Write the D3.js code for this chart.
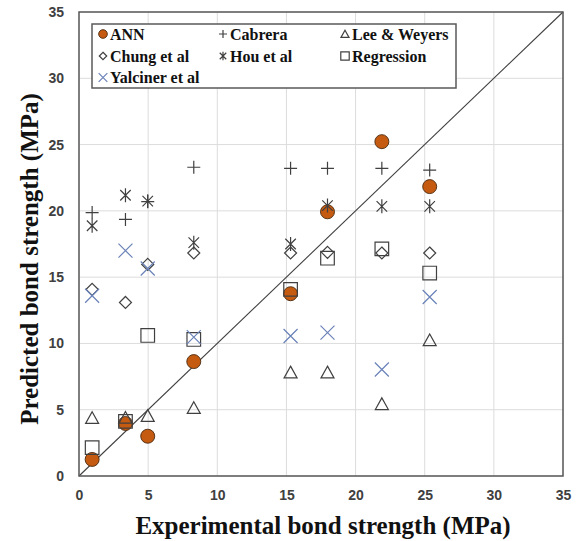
<!DOCTYPE html>
<html>
<head>
    <meta charset="utf-8" />
    <script src="https://d3js.org/d3.v7.min.js"></script>
    <style>
        body { margin: 0; background: #fff; }
    </style>
</head>
<body>
<svg id="chart" width="581" height="541"></svg>
<script>
    // Experimental bond strength (x) for the eight specimens
    const experimental = [0.95, 3.36, 4.97, 8.3, 15.3, 17.97, 21.9, 25.36];

    // Predicted bond strength per model
    const ann = [1.25, 3.96, 3.0, 8.63, 13.75, 19.93, 25.22, 21.83];
    const cabrera = [19.87, 19.35, 20.7, 23.29, 23.21, 23.21, 23.21, 23.08];
    const leeWeyers = [4.38, 4.4, 4.54, 5.14, 7.82, 7.82, 5.43, 10.25];
    const chung = [14.08, 13.09, 15.96, 16.82, 16.82, 16.87, 16.82, 16.82];
    const hou = [18.88, 21.18, 20.73, 17.6, 17.5, 20.4, 20.34, 20.34];
    const regression = [2.14, 4.12, 10.6, 10.3, 14.08, 16.43, 17.13, 15.31];
    const yalciner = [13.6, 17.0, 15.65, 10.48, 10.56, 10.82, 8.03, 13.5];

    const seriesNames = ["ANN", "Cabrera", "Lee & Weyers", "Chung et al", "Hou et al", "Regression", "Yalciner et al"];
    const ticks = [0, 5, 10, 15, 20, 25, 30, 35];

    const series = [
        { name: seriesNames[0], values: ann, shape: "circle" },
        { name: seriesNames[1], values: cabrera, shape: "plus" },
        { name: seriesNames[2], values: leeWeyers, shape: "triangle" },
        { name: seriesNames[3], values: chung, shape: "diamond" },
        { name: seriesNames[4], values: hou, shape: "star" },
        { name: seriesNames[5], values: regression, shape: "square" },
        { name: seriesNames[6], values: yalciner, shape: "cross" }
    ];

    const margin = { top: 12, right: 18, bottom: 65, left: 79 };
    const width = 581, height = 541;
    const innerWidth = width - margin.left - margin.right;
    const innerHeight = height - margin.top - margin.bottom;

    const svg = d3.select("#chart");
    svg.append("rect").attr("width", width).attr("height", height).attr("fill", "#fff");

    const g = svg.append("g").attr("transform", `translate(${margin.left},${margin.top})`);

    const xScale = d3.scaleLinear().domain([0, 35]).range([0, innerWidth]);
    const yScale = d3.scaleLinear().domain([0, 35]).range([innerHeight, 0]);

    // gridlines
    g.append("g")
        .selectAll("line")
        .data(ticks)
        .enter().append("line")
        .attr("x1", d => xScale(d)).attr("x2", d => xScale(d))
        .attr("y1", 0).attr("y2", innerHeight)
        .attr("stroke", "#dcdcdc").attr("stroke-width", 1);
    g.append("g")
        .selectAll("line")
        .data(ticks)
        .enter().append("line")
        .attr("y1", d => yScale(d)).attr("y2", d => yScale(d))
        .attr("x1", 0).attr("x2", innerWidth)
        .attr("stroke", "#dcdcdc").attr("stroke-width", 1);

    // axes (labels only, the frame is drawn below)
    const xAxis = d3.axisBottom(xScale).tickValues(ticks).tickSize(0).tickPadding(14);
    const yAxis = d3.axisLeft(yScale).tickValues(ticks).tickSize(0).tickPadding(15);

    const gx = g.append("g").attr("transform", `translate(0,${innerHeight})`).call(xAxis);
    const gy = g.append("g").call(yAxis);
    [gx, gy].forEach(a => {
        a.select(".domain").remove();
        a.selectAll("text")
            .attr("fill", "#404040")
            .style("font-family", "'Liberation Sans', Arial, sans-serif")
            .style("font-weight", "bold")
            .style("font-size", "14px");
    });

    // diagonal y = x
    g.append("line")
        .attr("x1", xScale(0)).attr("y1", yScale(0))
        .attr("x2", xScale(35)).attr("y2", yScale(35))
        .attr("stroke", "#404040").attr("stroke-width", 1.1);

    // marker shapes
    function markerPath(shape, s) {
        const k = s * 0.75;
        switch (shape) {
            case "plus": return `M${-s},0H${s}M0,${-s}V${s}`;
            case "triangle": return `M0,${-s * 0.95}L${s},${s * 0.85}L${-s},${s * 0.85}Z`;
            case "diamond": return `M0,${-s}L${s},0L0,${s}L${-s},0Z`;
            case "star": return `M${-k},${-k}L${k},${k}M${k},${-k}L${-k},${k}M0,${-s}V${s}`;
            case "square": return `M${-s},${-s}H${s}V${s}H${-s}Z`;
            case "cross": return `M${-s},${-s}L${s},${s}M${s},${-s}L${-s},${s}`;
        }
    }
    const sizes = { plus: 6.5, triangle: 6.5, diamond: 6, star: 7, square: 6.8, cross: 7 };

    function drawMarker(sel, shape, scale) {
        if (shape === "circle") {
            sel.append("circle")
                .attr("r", 7 * scale)
                .attr("fill", "#C55A11")
                .attr("stroke", "#4a2a10")
                .attr("stroke-width", 0.9);
        } else {
            sel.append("path")
                .attr("d", markerPath(shape, sizes[shape] * scale))
                .attr("fill", "none")
                .attr("stroke", shape === "cross" ? "#6A82B8" : "#404040")
                .attr("stroke-width", 1.2);
        }
    }

    series.forEach(s => {
        const pts = g.append("g").selectAll("g")
            .data(s.values.map((v, i) => [experimental[i], v]))
            .enter().append("g")
            .attr("transform", d => `translate(${xScale(d[0])},${yScale(d[1])})`);
        pts.each(function() { drawMarker(d3.select(this), s.shape, 1); });
    });

    // plot frame
    g.append("rect")
        .attr("width", innerWidth).attr("height", innerHeight)
        .attr("fill", "none").attr("stroke", "#595959").attr("stroke-width", 1.5);

    // legend
    const legend = svg.append("g").attr("transform", "translate(92,24)");
    legend.append("rect")
        .attr("width", 364).attr("height", 64)
        .attr("fill", "#fff").attr("stroke", "#595959").attr("stroke-width", 1.5);
    const colX = [11, 131, 253];
    const rowY = [10, 32, 53.5];
    series.forEach((s, i) => {
        const item = legend.append("g")
            .attr("transform", `translate(${colX[i % 3]},${rowY[Math.floor(i / 3)]})`);
        drawMarker(item, s.shape, 0.62);
        item.append("text")
            .attr("x", 7).attr("y", 5.5)
            .text(s.name)
            .style("font-family", "'Liberation Serif', 'Times New Roman', serif")
            .style("font-weight", "bold")
            .style("font-size", "16px")
            .attr("fill", "#111");
    });

    // axis titles
    svg.append("text")
        .attr("x", 323)
        .attr("y", 534)
        .attr("text-anchor", "middle")
        .style("font-family", "'Liberation Serif', 'Times New Roman', serif")
        .style("font-weight", "bold")
        .style("font-size", "25px")
        .attr("fill", "#111")
        .text("Experimental bond strength (MPa)");

    svg.append("text")
        .attr("transform", "translate(38,259) rotate(-90)")
        .attr("text-anchor", "middle")
        .style("font-family", "'Liberation Serif', 'Times New Roman', serif")
        .style("font-weight", "bold")
        .style("font-size", "25px")
        .attr("fill", "#111")
        .text("Predicted bond strength (MPa)");
</script>
</body>
</html>
